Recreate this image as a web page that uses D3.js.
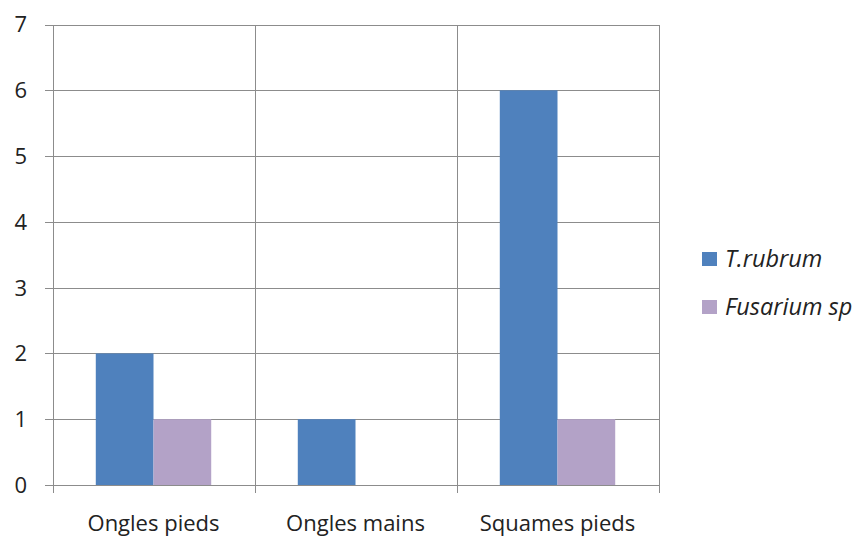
<!DOCTYPE html>
<html>
<head>
<meta charset="utf-8">
<script src="https://cdn.jsdelivr.net/npm/d3@7"></script>
<style>
  html, body { margin: 0; padding: 0; background: #fff; }
  svg { display: block; }
  text { font-family: "Open Sans", "DejaVu Sans", sans-serif; fill: #222; }
</style>
</head>
<body>
<svg id="chart" width="857" height="538"></svg>
<script>
// Number of samples per site and species
const categories = ["Ongles pieds", "Ongles mains", "Squames pieds"];
const seriesNames = ["T.rubrum", "Fusarium sp"];
const tRubrum = [2, 1, 6];
const fusarium = [1, 0, 1];
const yTicks = [0, 1, 2, 3, 4, 5, 6, 7];
const colors = ["#4F81BD", "#B3A2C7"];

const seriesValues = [tRubrum, fusarium];

const svg = d3.select("#chart");
const plotLeft = 52.5, plotRight = 658.5, plotTop = 24.5, plotBottom = 485;

const x = d3.scaleBand().domain(categories).range([plotLeft, plotRight]).paddingInner(0).paddingOuter(0);
const xs = d3.scaleBand().domain(seriesNames).range([0, x.bandwidth()]).paddingInner(0).paddingOuter(0.75);
const y = d3.scaleLinear().domain([0, 7]).range([plotBottom, plotTop]);

const grid = svg.append("g").attr("stroke", "#8c8c8c").attr("stroke-width", 1.2).attr("shape-rendering", "crispEdges");

// Horizontal gridlines, with their tick stubs left of the axis
grid.selectAll("line.h").data(yTicks).join("line")
  .attr("x1", plotLeft - 8).attr("x2", plotRight)
  .attr("y1", d => Math.round(y(d)) + 0.5).attr("y2", d => Math.round(y(d)) + 0.5);

// Vertical lines at category boundaries, extending below the axis as ticks
const bounds = categories.map(c => x(c)).concat([plotRight]);
grid.selectAll("line.v").data(bounds).join("line")
  .attr("x1", d => Math.round(d) + 0.5).attr("x2", d => Math.round(d) + 0.5)
  .attr("y1", plotTop).attr("y2", plotBottom + 8);

// Bars
const rows = [];
categories.forEach((c, i) => seriesNames.forEach((s, j) => rows.push({ c, s, j, v: seriesValues[j][i] })));
svg.append("g").selectAll("rect").data(rows.filter(d => d.v > 0)).join("rect")
  .attr("x", d => x(d.c) + xs(d.s))
  .attr("width", xs.bandwidth())
  .attr("y", d => y(d.v))
  .attr("height", d => y(0) - y(d.v))
  .attr("fill", d => colors[d.j]);

// Y tick labels
svg.append("g").selectAll("text").data(yTicks).join("text")
  .attr("x", 27).attr("y", d => y(d))
  .attr("dy", "0.36em")
  .attr("text-anchor", "end")
  .attr("font-size", 22)
  .text(d => d);

// Category labels
svg.append("g").selectAll("text").data(categories).join("text")
  .attr("x", d => x(d) + x.bandwidth() / 2)
  .attr("y", 531)
  .attr("text-anchor", "middle")
  .attr("font-size", 22)
  .text(d => d);

// Legend
const legend = svg.append("g").selectAll("g").data(seriesNames).join("g")
  .attr("transform", (d, i) => `translate(702, ${252 + i * 48})`);
legend.append("rect").attr("width", 15).attr("height", 14).attr("fill", (d, i) => colors[i]);
legend.append("text")
  .attr("x", 23).attr("y", 14.5)
  .attr("font-size", 23.5).attr("font-style", "italic")
  .text(d => d);
</script>
</body>
</html>
